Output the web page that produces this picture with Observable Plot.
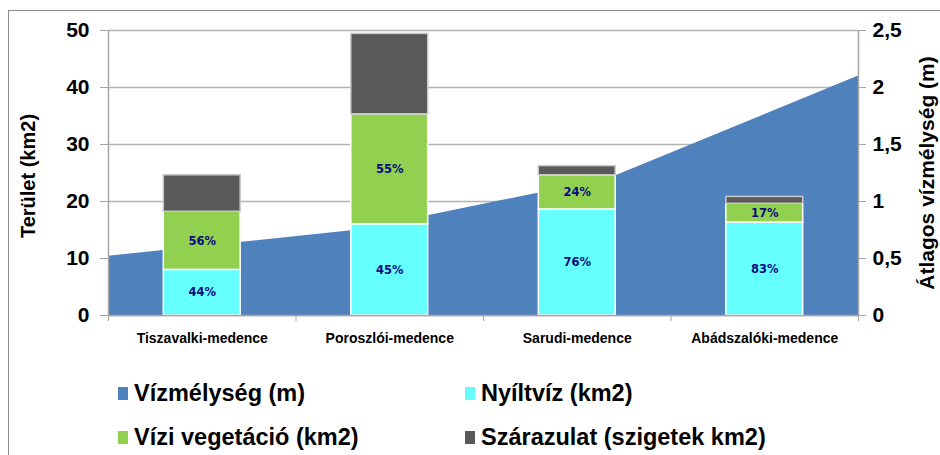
<!DOCTYPE html>
<html>
<head>
<meta charset="utf-8">
<script src="https://cdn.jsdelivr.net/npm/d3@7"></script>
<script src="https://cdn.jsdelivr.net/npm/@observablehq/plot@0.6"></script>
<style>
  html, body { margin: 0; padding: 0; background: #fff; }
  #wrap { position: relative; width: 940px; height: 455px; overflow: hidden; font-family: "Liberation Sans", Arial, sans-serif; }
  #frame { position: absolute; left: 8px; top: 10px; width: 1200px; height: 1200px; border-left: 1px solid #8c8c8c; border-top: 1px solid #8c8c8c; pointer-events: none; }
  #chart { position: absolute; left: 0; top: 0; }
  #legend { position: absolute; left: 0; top: 360px; width: 940px; height: 95px; }
  .item { position: absolute; display: flex; align-items: center; font-weight: bold; font-size: 23.5px; color: #000; white-space: nowrap; }
  .sw { width: 10px; height: 13px; margin-right: 6px; }
</style>
</head>
<body>
<div id="wrap">
  <div id="frame"></div>
  <div id="chart"></div>
  <div id="legend"></div>
</div>
<script>
const categories = ["Tiszavalki-medence", "Poroszlói-medence", "Sarudi-medence", "Abádszalóki-medence"];
const openWater = [8.0, 16.0, 18.6, 16.3];
const vegetation = [10.2, 19.3, 6.0, 3.3];
const land = [6.4, 14.1, 1.6, 1.2];
const openPct = ["44%", "45%", "76%", "83%"];
const vegPct = ["56%", "55%", "24%", "17%"];
const depth = [0.52, 0.75, 1.2, 2.1];
const areaTicks = [0, 10, 20, 30, 40, 50];
const depthTicks = [0, 0.5, 1, 1.5, 2, 2.5];
const seriesNames = ["Vízmélység (m)", "Nyíltvíz (km2)", "Vízi vegetáció (km2)", "Szárazulat (szigetek km2)"];
const seriesColors = ["#4F81BD", "#66FFFF", "#92D050", "#595959"];

const depthToArea = 50 / 2.5;
const half = 0.205;
const n = categories.length;

const rects = [];
categories.forEach((c, i) => {
  const vals = [openWater[i], vegetation[i], land[i]];
  let base = 0;
  vals.forEach((v, k) => {
    rects.push({i, x1: i + 0.5 - half, x2: i + 0.5 + half, y1: base, y2: base + v, s: k + 1});
    base += v;
  });
});
const labels = [];
categories.forEach((c, i) => {
  labels.push({x: i + 0.5, y: openWater[i] / 2, t: openPct[i]});
  labels.push({x: i + 0.5, y: openWater[i] + vegetation[i] / 2, t: vegPct[i]});
});
const areaPts = depth.map((d, i) => ({x: i * n / (depth.length - 1), y: d * depthToArea}));

const font = "Liberation Sans, Arial, sans-serif";
const gray = "#a6a6a6";

const plot = Plot.plot({
  width: 940,
  height: 360,
  marginLeft: 108,
  marginRight: 82,
  marginTop: 30,
  marginBottom: 45,
  style: {fontFamily: font, background: "transparent", overflow: "visible"},
  x: {domain: [0, n]},
  y: {domain: [0, 50]},
  marks: [
    Plot.gridY(areaTicks, {stroke: "#b3b3b3", strokeOpacity: 1, strokeWidth: 1.3}),
    Plot.areaY(areaPts, {x: "x", y: "y", fill: seriesColors[0]}),
    Plot.rect(rects, {x1: "x1", x2: "x2", y1: "y1", y2: "y2", fill: d => seriesColors[d.s],
      stroke: d => d.s === 3 ? "#c8c8c8" : "#ffffff", strokeWidth: 1.5}),
    Plot.text(labels, {x: "x", y: "y", text: "t", fill: "#0a0a80", fontSize: 11.5, fontWeight: "bold",
      fontFamily: "DejaVu Sans, Verdana, sans-serif"}),
    Plot.ruleX([0, n], {stroke: gray, strokeWidth: 1.5}),
    Plot.ruleY([0], {stroke: gray, strokeWidth: 1.5}),
    Plot.axisY(areaTicks, {anchor: "left", tickSize: 8, tickPadding: 11, stroke: gray, fill: "#000",
      fontSize: 21, fontWeight: "bold", label: null}),
    Plot.axisY(depthTicks.map(d => d * depthToArea), {anchor: "right", tickSize: 7, tickPadding: 7, stroke: gray, fill: "#000",
      fontSize: 21, fontWeight: "bold", label: null,
      tickFormat: v => String(+(v / depthToArea).toFixed(2)).replace(".", ",")}),
    Plot.axisX(d3.range(n + 1), {anchor: "bottom", tickSize: 6, stroke: gray, tickFormat: () => "", label: null}),
    Plot.axisX(d3.range(n).map(i => i + 0.5), {anchor: "bottom", tickSize: 0, tickPadding: 18, fill: "#000",
      fontSize: 14, fontWeight: "bold", label: null, tickFormat: v => categories[Math.floor(v)]}),
    Plot.text(["Terület (km2)"], {frameAnchor: "left", textAnchor: "middle", dx: -80, dy: 3, rotate: -90, fontSize: 20, fontWeight: "bold", fill: "#000", text: d => d}),
    Plot.text(["Átlagos vízmélység (m)"], {frameAnchor: "right", textAnchor: "middle", dx: 69, dy: 0, rotate: -90, fontSize: 21, fontWeight: "bold", fill: "#000", text: d => d})
  ]
});
document.getElementById("chart").appendChild(plot);

const legendPos = [[118, 33], [465, 33], [118, 77], [465, 77]];
const legend = document.getElementById("legend");
seriesNames.forEach((name, k) => {
  const el = document.createElement("div");
  el.className = "item";
  el.style.left = legendPos[k][0] + "px";
  el.style.top = (legendPos[k][1] - 14) + "px";
  el.style.height = "28px";
  const sw = document.createElement("span");
  sw.className = "sw";
  sw.style.background = seriesColors[k];
  const tx = document.createElement("span");
  tx.textContent = name;
  el.appendChild(sw);
  el.appendChild(tx);
  legend.appendChild(el);
});
</script>
</body>
</html>
